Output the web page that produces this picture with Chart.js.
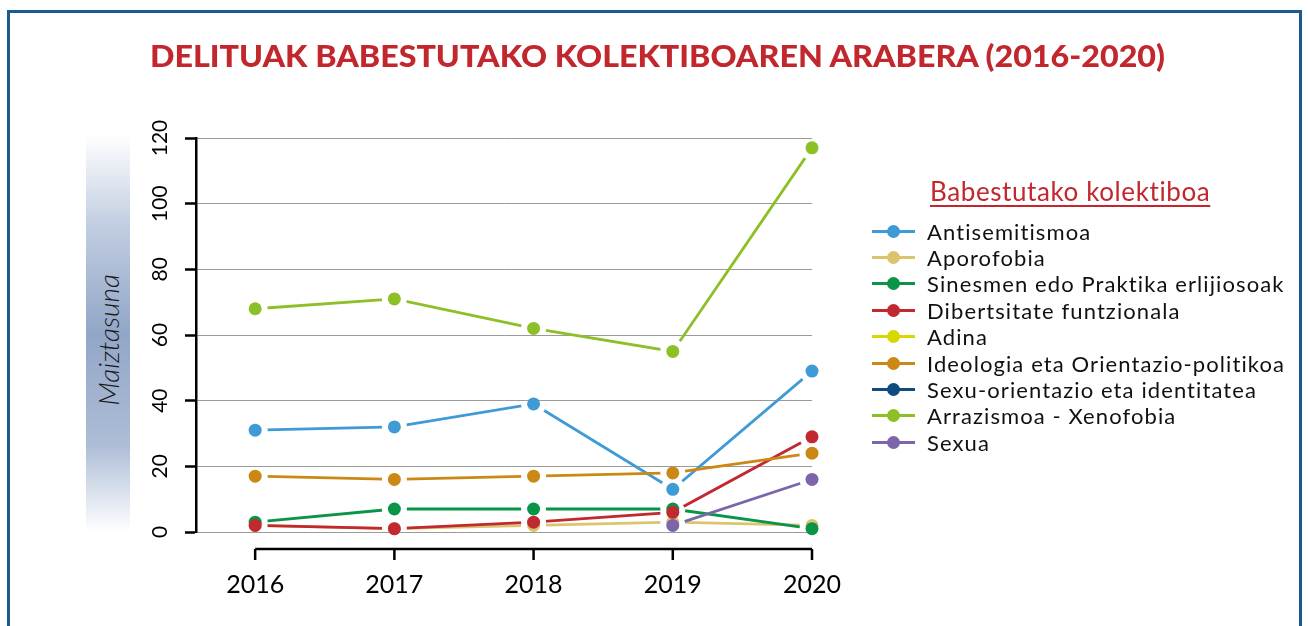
<!DOCTYPE html>
<html>
<head>
<meta charset="utf-8">
<script src="https://cdn.jsdelivr.net/npm/chart.js@4/dist/chart.umd.min.js"></script>
<style>
    html, body { margin: 0; padding: 0; width: 1308px; height: 626px; overflow: hidden; background: #fff; }
    #frame { position: absolute; left: 7px; top: 10px; width: 1295px; height: 700px; border: 3px solid #1c5a8e; box-sizing: border-box; }
    #chart { position: absolute; left: 0; top: 0; }
    #title { position: absolute; top: 36px; left: 0; white-space: nowrap; font-family: Lato, sans-serif; font-weight: 900;
        font-size: 31px; color: #c1272d; transform-origin: 0 0; }
    #ylab { position: absolute; left: 86px; top: 135px; width: 44px; height: 397px;
        background: linear-gradient(to bottom, #fff 0%, #c3cfe2 22%, #92a6c7 50%, #adbdd6 78%, #fff 100%); }
    #ylab span { position: absolute; left: 22px; top: 205px; transform: translate(-50%, -50%) rotate(-90deg);
        font-family: Lato, sans-serif; font-style: italic; font-weight: 300; font-size: 28px; color: #1a1a1a; white-space: nowrap; }
    #legend-title { position: absolute; left: 930px; top: 175px; font-family: Lato, sans-serif; font-size: 26px; color: #c1272d;
        letter-spacing: 0.6px; text-decoration: underline; text-underline-offset: 4px; white-space: nowrap; }
    #legend { position: absolute; left: 872px; top: 218px; font-family: Lato, sans-serif; font-size: 22px;
        letter-spacing: 1.1px; color: #111; }
    .row { height: 26.4px; display: flex; align-items: center; white-space: nowrap; }
    .key { position: relative; width: 43px; height: 13px; margin-right: 12px; }
    .key i { position: absolute; left: 0; right: 0; top: 5px; height: 3px; }
    .key b { position: absolute; left: 15px; top: 0; width: 13px; height: 13px; border-radius: 50%; }
</style>
</head>
<body>
<div id="frame"></div>
<canvas id="chart" width="1308" height="626"></canvas>
<div id="title">DELITUAK BABESTUTAKO KOLEKTIBOAREN ARABERA (2016-2020)</div>
<div id="ylab"><span>Maiztasuna</span></div>
<div id="legend-title">Babestutako kolektiboa</div>
<div id="legend"></div>
<script>
// datuak
var years = [2016, 2017, 2018, 2019, 2020];
var yTicks = [0, 20, 40, 60, 80, 100, 120];

var names = [
    'Antisemitismoa',
    'Aporofobia',
    'Sinesmen edo Praktika erlijiosoak',
    'Dibertsitate funtzionala',
    'Adina',
    'Ideologia eta Orientazio-politikoa',
    'Sexu-orientazio eta identitatea',
    'Arrazismoa - Xenofobia',
    'Sexua'
];
var antisemitismoa = [31, 32, 39, 13, 49];
var aporofobia = [2, 1, 2, 3, 2];
var sinesmenak = [3, 7, 7, 7, 1];
var dibertsitatea = [2, 1, 3, 6, 29];
var adina = [null, null, null, null, null];
var ideologia = [17, 16, 17, 18, 24];
var sexuOrientazioa = [null, null, null, null, null];
var arrazismoa = [68, 71, 62, 55, 117];
var sexua = [null, null, null, 2, 16];

var values = [antisemitismoa, aporofobia, sinesmenak, dibertsitatea, adina,
    ideologia, sexuOrientazioa, arrazismoa, sexua];

var colors = ['#3e9bd6', '#dcc46e', '#0a9447', '#c1282f', '#d6d800',
    '#cc8814', '#104b7f', '#8dbf27', '#7d65ab'];

var datasets = names.map(function (name, i) {
    return {
        label: name,
        data: years.map(function (yr, j) { return { x: yr, y: values[i][j] }; }),
        borderColor: colors[i],
        backgroundColor: colors[i],
        borderWidth: 2.8,
        pointRadius: 6.5,
        pointHoverRadius: 6.5,
        pointBorderWidth: 0,
        clip: false,
        order: names.length - i   // azkenak gainean, R-n bezala
    };
});

// R "type b": lerroak puntuen inguruan eten
var gapPlugin = {
    id: 'gap',
    beforeDatasetDraw: function (chart, args) {
        var meta = args.meta;
        var line = meta.dataset;
        if (!line || line._gap) return;
        var orig = line.draw;
        line.draw = function () {
            var ctx = chart.ctx;
            ctx.save();
            ctx.beginPath();
            ctx.rect(0, 0, chart.width, chart.height);
            meta.data.forEach(function (p) {
                if (p.skip) return;
                ctx.moveTo(p.x + 12.5, p.y);
                ctx.arc(p.x, p.y, 12.5, 0, Math.PI * 2);
            });
            ctx.clip('evenodd');
            orig.apply(this, arguments);
            ctx.restore();
        };
        line._gap = true;
    }
};

// ardatzak R estiloan
var axesPlugin = {
    id: 'axesR',
    afterDraw: function (chart) {
        var ctx = chart.ctx;
        var xs = chart.scales.x;
        var ys = chart.scales.y;
        ctx.save();
        ctx.fillStyle = '#000';
        ctx.strokeStyle = '#000';

        // y etiketak, biratuta
        ctx.font = '21px Lato, sans-serif';
        ctx.textAlign = 'center';
        ctx.textBaseline = 'middle';
        ys.ticks.forEach(function (t) {
            var py = ys.getPixelForValue(t.value);
            ctx.save();
            ctx.translate(160, py);
            ctx.rotate(-Math.PI / 2);
            ctx.fillText(String(t.value), 0, 0);
            ctx.restore();
        });

        // x ardatza, azpitik bereizita
        var x0 = xs.getPixelForValue(years[0]);
        var x1 = xs.getPixelForValue(years[years.length - 1]);
        var ay = 549;
        ctx.lineWidth = 2.5;
        ctx.beginPath();
        ctx.moveTo(x0, ay);
        ctx.lineTo(x1, ay);
        years.forEach(function (yr) {
            var px = xs.getPixelForValue(yr);
            ctx.moveTo(px, ay);
            ctx.lineTo(px, ay + 11);
        });
        ctx.stroke();
        ctx.font = '25px Lato, sans-serif';
        years.forEach(function (yr) {
            ctx.fillText(String(yr), xs.getPixelForValue(yr), 585);
        });
        ctx.restore();
    }
};

new Chart(document.getElementById('chart'), {
    type: 'line',
    data: { datasets: datasets },
    options: {
        responsive: false,
        animation: false,
        events: [],
        layout: { padding: { left: 185, top: 138, right: 496, bottom: 94 } },
        plugins: { legend: { display: false }, tooltip: { enabled: false } },
        scales: {
            x: { type: 'linear', min: 2015.575, max: 2020, display: false },
            y: {
                min: 0,
                max: 120,
                afterBuildTicks: function (s) {
                    s.ticks = yTicks.map(function (v) { return { value: v }; });
                },
                afterFit: function (s) { s.width = 11; },
                ticks: { display: false },
                grid: { color: '#9a9a9a', lineWidth: 1, tickColor: '#000', tickLength: 11, tickWidth: 2.5 },
                border: { color: '#000', width: 2.5 }
            }
        }
    },
    plugins: [gapPlugin, axesPlugin]
});

// legenda
var legend = document.getElementById('legend');
names.forEach(function (name, i) {
    var row = document.createElement('div');
    row.className = 'row';
    row.innerHTML = '<span class="key"><i style="background:' + colors[i] + '"></i><b style="background:' +
        colors[i] + '"></b></span><span>' + name + '</span>';
    legend.appendChild(row);
});

// izenburua zabaleran doitu
var title = document.getElementById('title');
var w = title.getBoundingClientRect().width;
title.style.left = '150px';
title.style.transform = 'scaleX(' + (1015 / w) + ')';
</script>
</body>
</html>
